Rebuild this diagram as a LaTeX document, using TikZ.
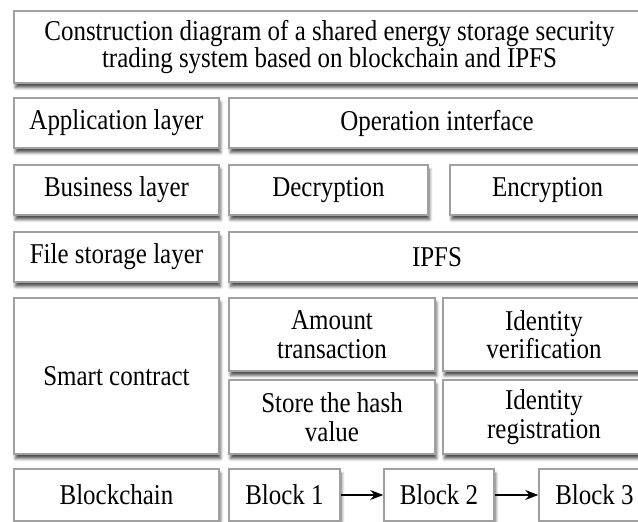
\documentclass[tikz,border=0pt]{standalone}
\usepackage{fontspec}
\setmainfont[FakeStretch=0.87]{Liberation Serif}
\usetikzlibrary{arrows.meta,shadows.blur}
\definecolor{edgegray}{RGB}{160,160,160}
\tikzset{
  box/.style={draw=edgegray, line width=1.5pt, fill=white, align=center, inner sep=0pt,
    font=\fontsize{28.7}{28.5}\selectfont,
    blur shadow={shadow xshift=1.5pt, shadow yshift=-4.5pt, shadow blur radius=3pt, shadow opacity=70}},
  titlebox/.style={box, font=\fontsize{28.7}{26.5}\selectfont},
  link/.style={line width=1.6pt, -{Stealth[length=13pt,width=10pt]}}
}
\begin{document}
\begin{tikzpicture}[x=1pt,y=-1pt]
\useasboundingbox (0,0) rectangle (638,522);
\clip (0,0) rectangle (638,522);
\node[titlebox, minimum width=631pt, minimum height=72pt] (title) at (329.5,47) {Construction diagram of a shared energy storage security\\trading system based on blockchain and IPFS};
\node[box, minimum width=205pt, minimum height=50pt] (app) at (116.5,123) {Application layer};
\node[box, minimum width=416pt, minimum height=50pt] (opint) at (437,123) {Operation interface};
\node[box, minimum width=205pt, minimum height=50pt] (biz) at (116.5,190) {Business layer};
\node[box, minimum width=199pt, minimum height=50pt] (decr) at (328.5,190) {Decryption};
\node[box, minimum width=195pt, minimum height=50pt] (encr) at (547.5,190) {Encryption};
\node[box, minimum width=205pt, minimum height=50pt] (file) at (116.5,257) {File storage layer};
\node[box, minimum width=416pt, minimum height=50pt] (ipfs) at (437,257) {IPFS};
\node[box, minimum width=205pt, minimum height=156pt] (smart) at (116.5,376) {Smart contract};
\node[box, minimum width=206pt, minimum height=73pt] (amount) at (332,334.5) {Amount\\transaction};
\node[box, minimum width=202pt, minimum height=73pt] (idver) at (544,334.5) {Identity\\verification};
\node[box, minimum width=206pt, minimum height=74pt] (store) at (332,417) {Store the hash\\value};
\node[box, minimum width=202pt, minimum height=74pt] (idreg) at (544,417) {Identity\\registration};
\node[box, minimum width=205pt, minimum height=52pt] (chain) at (116.5,495) {Blockchain};
\node[box, minimum width=111pt, minimum height=52pt] (b1) at (284.5,495) {Block 1};
\node[box, minimum width=110pt, minimum height=52pt] (b2) at (439,495) {Block 2};
\node[box, minimum width=111pt, minimum height=52pt] (b3) at (594.5,495) {Block 3};
\draw[link] (b1) -- (b2);
\draw[link] (b2) -- (b3);
\end{tikzpicture}
\end{document}
